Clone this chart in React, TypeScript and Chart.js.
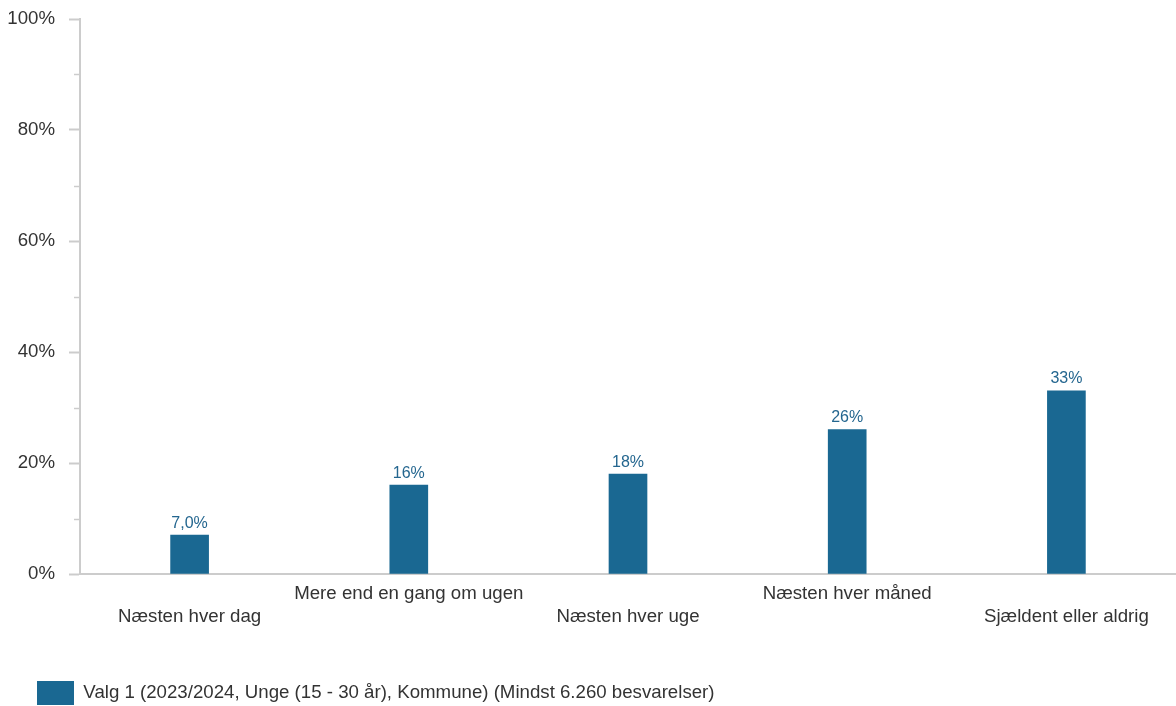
import React, { useEffect, useRef } from "react";
import { Chart, registerables } from "chart.js";

Chart.register(...registerables);

const categories: string[] = [
  "Næsten hver dag",
  "Mere end en gang om ugen",
  "Næsten hver uge",
  "Næsten hver måned",
  "Sjældent eller aldrig",
];
const seriesValues: number[] = [7.0, 16, 18, 26, 33];
const seriesLabel = "Valg 1 (2023/2024, Unge (15 - 30 år), Kommune) (Mindst 6.260 besvarelser)";
const yTickValues: number[] = [0, 20, 40, 60, 80, 100];
const minorTickValues: number[] = [10, 30, 50, 70, 90];

const BAR_COLOR = "#1a6892";
const LABEL_COLOR = "#24668f";
const AXIS_COLOR = "#cccccc";
const TEXT_COLOR = "#333333";
const FONT = "'Liberation Sans', Arial, Helvetica, sans-serif";
const TEXT_SIZE = 18.67;

function formatPct(v: number): string {
  if (v < 10) return v.toFixed(1).replace(".", ",") + "%";
  return Math.round(v) + "%";
}

const dataLabelPlugin = {
  id: "dataLabels",
  afterDatasetsDraw(chart: any) {
    const ctx = chart.ctx;
    const meta = chart.getDatasetMeta(0);
    ctx.save();
    ctx.font = `16px ${FONT}`;
    ctx.fillStyle = LABEL_COLOR;
    ctx.textAlign = "center";
    ctx.textBaseline = "middle";
    meta.data.forEach((bar: any, i: number) => {
      ctx.fillText(formatPct(seriesValues[i]), bar.x, bar.y - 12);
    });
    ctx.restore();
  },
};

const minorTickPlugin = {
  id: "minorTicks",
  afterDraw(chart: any) {
    const scale = chart.scales.y;
    const ctx = chart.ctx;
    ctx.save();
    ctx.strokeStyle = AXIS_COLOR;
    ctx.lineWidth = 1.5;
    minorTickValues.forEach((v) => {
      const y = Math.round(scale.getPixelForValue(v)) + 0.5;
      ctx.beginPath();
      ctx.moveTo(scale.right - 6, y);
      ctx.lineTo(scale.right, y);
      ctx.stroke();
    });
    ctx.restore();
  },
};

export default function App() {
  const canvasRef = useRef<HTMLCanvasElement | null>(null);

  useEffect(() => {
    document.body.style.margin = "0";
    const canvas = canvasRef.current;
    if (!canvas) return;
    const chart = new Chart(canvas, {
      type: "bar",
      data: {
        labels: categories,
        datasets: [
          {
            label: seriesLabel,
            data: seriesValues,
            backgroundColor: BAR_COLOR,
            borderWidth: 0,
            barThickness: 38,
          },
        ],
      },
      options: {
        responsive: false,
        animation: false,
        devicePixelRatio: 1,
        layout: { padding: { top: 19, left: 0, right: 0, bottom: 0 } },
        plugins: {
          tooltip: { enabled: false },
          legend: {
            display: true,
            position: "bottom",
            align: "start",
            labels: {
              boxWidth: 37,
              boxHeight: 24,
              padding: 37,
              color: TEXT_COLOR,
              font: { size: TEXT_SIZE, family: FONT },
            },
          },
        },
        scales: {
          x: {
            grid: { display: false, drawTicks: false },
            border: { display: true, color: AXIS_COLOR, width: 2 },
            ticks: {
              autoSkip: false,
              maxRotation: 0,
              minRotation: 0,
              padding: 8,
              color: TEXT_COLOR,
              font: { size: TEXT_SIZE, family: FONT, lineHeight: 1.25 },
              callback: (_v: any, i: number) =>
                i % 2 === 0 ? ["", categories[i]] : [categories[i], ""],
            },
            afterFit: (scale: any) => {
              scale.height = 70;
            },
          },
          y: {
            min: 0,
            max: 100,
            grid: {
              display: true,
              drawOnChartArea: false,
              drawTicks: true,
              tickLength: 11,
              tickWidth: 2,
              tickColor: AXIS_COLOR,
            },
            border: { display: true, color: AXIS_COLOR, width: 2 },
            afterBuildTicks: (scale: any) => {
              scale.ticks = yTickValues.map((v) => ({ value: v }));
            },
            ticks: {
              padding: 14,
              color: TEXT_COLOR,
              font: { size: TEXT_SIZE, family: FONT },
              callback: (v: any) => v + "%",
            },
            afterFit: (scale: any) => {
              scale.width = 80;
              scale.paddingTop = 0;
              scale.paddingBottom = 0;
            },
          },
        },
      },
      plugins: [dataLabelPlugin, minorTickPlugin],
    });
    return () => chart.destroy();
  }, []);

  return (
    <div style={{ width: 1176, height: 706, overflow: "hidden", background: "#fff" }}>
      <canvas ref={canvasRef} width={1176} height={715} style={{ display: "block" }} />
    </div>
  );
}
